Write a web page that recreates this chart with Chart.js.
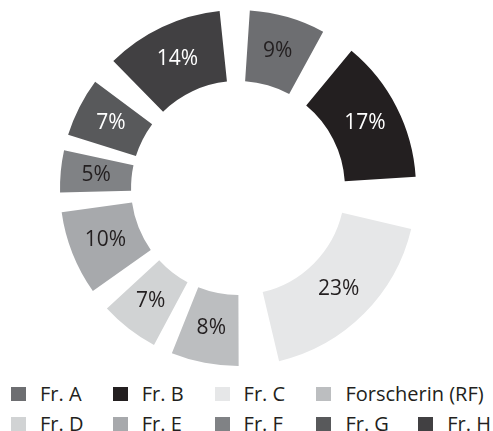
<!DOCTYPE html>
<html>
<head>
<meta charset="utf-8">
<script src="https://cdn.jsdelivr.net/npm/chart.js@4/dist/chart.umd.min.js"></script>
<style>
  html, body { margin: 0; padding: 0; background: #fff; }
  #page { width: 493px; height: 431px; position: relative; overflow: hidden; }
  #wrap { position: absolute; left: 0; top: 0; width: 493px; height: 372px; }
  #legend { position: absolute; left: 11px; top: 378px; width: 482px;
            font-family: "Open Sans", "DejaVu Sans", sans-serif; font-size: 20px; color: #231f20; }
  #legend .row { height: 30px; display: flex; align-items: center; white-space: nowrap; }
  #legend .item { width: 101.8px; display: flex; align-items: center; flex: none; }
  #legend .item.wide { width: auto; }
  #legend .box { width: 15px; height: 14px; margin-right: 14px; margin-top: 2px; flex: none; }
</style>
</head>
<body>
<div id="page">
  <div id="wrap"><canvas id="chart"></canvas></div>
  <div id="legend"></div>
</div>
<script>
// --- Data ---
const labels = ['Fr. A', 'Fr. B', 'Fr. C', 'Forscherin (RF)', 'Fr. D', 'Fr. E', 'Fr. F', 'Fr. G', 'Fr. H'];
const shares = [9, 17, 23, 8, 7, 10, 5, 7, 14];
const colors = ['#6d6e71', '#231f20', '#e6e7e8', '#bcbec0', '#d1d3d4', '#a7a9ac', '#808285', '#58595b', '#414042'];
const labelColors = ['#231f20', '#ffffff', '#231f20', '#231f20', '#231f20', '#231f20', '#231f20', '#ffffff', '#ffffff'];
const legendRows = [4, 5]; // items per legend row

const FONT = '"Open Sans", "DejaVu Sans", sans-serif';
const SPACING = 60;

// Draws the percentage in the middle of each drawn ring segment
const sliceLabels = {
    id: 'sliceLabels',
    afterDatasetsDraw(chart) {
        const ctx = chart.ctx;
        const meta = chart.getDatasetMeta(0);
        ctx.save();
        ctx.font = '21px ' + FONT;
        ctx.textAlign = 'center';
        ctx.textBaseline = 'middle';
        meta.data.forEach((arc, i) => {
            const p = arc.getProps(['x', 'y', 'startAngle', 'endAngle', 'innerRadius', 'outerRadius']);
            const mid = (p.startAngle + p.endAngle) / 2;
            // arcs are drawn pushed out by half the spacing
            const r = (p.innerRadius + p.outerRadius) / 2 + SPACING / 2;
            ctx.fillStyle = labelColors[i];
            ctx.fillText(shares[i] + '%', p.x + Math.cos(mid) * r, p.y + Math.sin(mid) * r);
        });
        ctx.restore();
    }
};

// HTML legend laid out in two rows like the original
const htmlLegend = {
    id: 'htmlLegend',
    afterUpdate(chart) {
        const box = document.getElementById('legend');
        box.innerHTML = '';
        const items = chart.options.plugins.legend.labels.generateLabels(chart);
        let idx = 0;
        legendRows.forEach(count => {
            const row = document.createElement('div');
            row.className = 'row';
            for (let k = 0; k < count && idx < items.length; k++, idx++) {
                const it = items[idx];
                const el = document.createElement('div');
                el.className = 'item' + (it.text.length > 8 ? ' wide' : '');
                const sw = document.createElement('span');
                sw.className = 'box';
                sw.style.background = it.fillStyle;
                const tx = document.createElement('span');
                tx.textContent = it.text;
                el.appendChild(sw);
                el.appendChild(tx);
                row.appendChild(el);
            }
            box.appendChild(row);
        });
    }
};

new Chart(document.getElementById('chart'), {
    type: 'doughnut',
    data: {
        labels: labels,
        datasets: [{
            data: shares,
            backgroundColor: colors,
            borderWidth: 0,
            spacing: SPACING
        }]
    },
    options: {
        responsive: true,
        maintainAspectRatio: false,
        animation: false,
        cutout: '52%',
        layout: { padding: { top: 10, bottom: 6, right: 17 } },
        plugins: {
            tooltip: { enabled: false },
            legend: { display: false }
        }
    },
    plugins: [sliceLabels, htmlLegend]
});
</script>
</body>
</html>
